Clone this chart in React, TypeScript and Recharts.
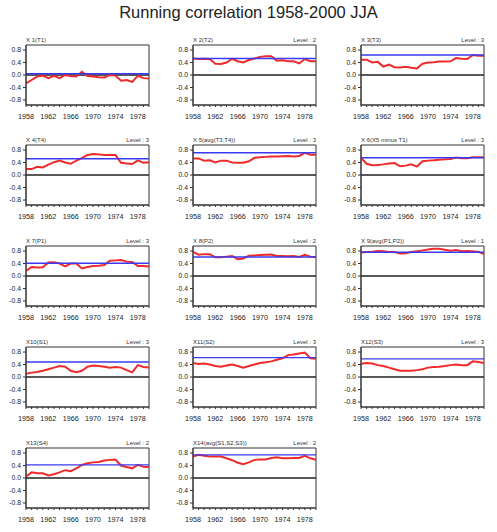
import React from 'react'
import { LineChart, Line, XAxis, YAxis, ReferenceLine, ReferenceArea } from 'recharts'

const YEARS = [1958, 1959, 1960, 1961, 1962, 1963, 1964, 1965, 1966, 1967, 1968, 1969, 1970, 1971, 1972, 1973, 1974, 1975, 1976, 1977, 1978, 1979, 1980]
const X_TICKS = [1958, 1962, 1966, 1970, 1974, 1978]
const Y_TICKS = [-0.8, -0.4, 0, 0.4, 0.8]

const TITLES = [
  'X 1(T1)', 'X 2(T2)', 'X 3(T3)',
  'X 4(T4)', 'X 5(avg(T3,T4))', 'X 6(X5 minus T1)',
  'X 7(P1)', 'X 8(P2)', 'X 9(avg(P1,P2))',
  'X10(S1)', 'X11(S2)', 'X12(S3)',
  'X13(S4)', 'X14(avg(S1,S2,S3))',
]
const LEVEL_LABELS = ['', 'Level : 2', 'Level : 3', 'Level : 3', 'Level : 3', 'Level : 3', 'Level : 3', 'Level : 2', 'Level : 1', 'Level : 3', 'Level : 3', 'Level : 3', 'Level : 2', 'Level : 2']
const LEVELS = [0.04, 0.53, 0.64, 0.52, 0.71, 0.55, 0.41, 0.61, 0.76, 0.48, 0.62, 0.58, 0.42, 0.74]

const X1 = [-0.27, -0.16, -0.05, -0.02, -0.1, -0.03, -0.1, 0, -0.03, -0.05, 0.1, -0.03, -0.05, -0.07, -0.08, 0, -0.02, -0.18, -0.16, -0.22, -0.03, -0.1, -0.11]
const X2 = [0.53, 0.51, 0.52, 0.51, 0.36, 0.35, 0.4, 0.52, 0.44, 0.4, 0.48, 0.53, 0.58, 0.6, 0.6, 0.46, 0.47, 0.44, 0.44, 0.37, 0.51, 0.44, 0.44]
const X3 = [0.49, 0.49, 0.4, 0.42, 0.27, 0.33, 0.25, 0.24, 0.26, 0.23, 0.21, 0.36, 0.4, 0.41, 0.43, 0.43, 0.44, 0.54, 0.52, 0.51, 0.64, 0.62, 0.62]
const X4 = [0.19, 0.19, 0.26, 0.24, 0.33, 0.41, 0.46, 0.4, 0.36, 0.46, 0.54, 0.64, 0.67, 0.66, 0.64, 0.64, 0.64, 0.39, 0.37, 0.35, 0.47, 0.39, 0.41]
const X5 = [0.53, 0.53, 0.46, 0.47, 0.4, 0.46, 0.46, 0.4, 0.39, 0.39, 0.44, 0.55, 0.57, 0.58, 0.59, 0.59, 0.6, 0.61, 0.59, 0.61, 0.71, 0.65, 0.65]
const X6 = [0.55, 0.36, 0.31, 0.32, 0.34, 0.37, 0.38, 0.28, 0.3, 0.34, 0.27, 0.44, 0.46, 0.47, 0.49, 0.5, 0.51, 0.56, 0.54, 0.54, 0.57, 0.57, 0.57]
const X7 = [0.16, 0.29, 0.27, 0.28, 0.43, 0.44, 0.4, 0.31, 0.4, 0.4, 0.24, 0.29, 0.32, 0.33, 0.35, 0.49, 0.5, 0.51, 0.46, 0.45, 0.32, 0.32, 0.3]
const X8 = [0.77, 0.68, 0.7, 0.7, 0.6, 0.6, 0.62, 0.64, 0.54, 0.56, 0.65, 0.66, 0.67, 0.68, 0.69, 0.64, 0.64, 0.63, 0.64, 0.61, 0.68, 0.62, 0.6]
const X9 = [0.75, 0.77, 0.78, 0.8, 0.79, 0.77, 0.77, 0.72, 0.73, 0.77, 0.79, 0.82, 0.85, 0.87, 0.87, 0.84, 0.81, 0.83, 0.79, 0.8, 0.79, 0.77, 0.7]
const X10 = [0.1, 0.14, 0.16, 0.2, 0.25, 0.3, 0.35, 0.33, 0.2, 0.15, 0.2, 0.33, 0.37, 0.35, 0.33, 0.3, 0.32, 0.3, 0.22, 0.15, 0.38, 0.32, 0.3]
const X11 = [0.45, 0.42, 0.43, 0.4, 0.35, 0.33, 0.37, 0.4, 0.35, 0.3, 0.35, 0.4, 0.45, 0.47, 0.5, 0.55, 0.6, 0.7, 0.72, 0.75, 0.78, 0.6, 0.58]
const X12 = [0.42, 0.45, 0.43, 0.38, 0.35, 0.3, 0.25, 0.2, 0.2, 0.2, 0.22, 0.25, 0.3, 0.32, 0.33, 0.35, 0.38, 0.4, 0.38, 0.38, 0.5, 0.48, 0.45]
const X13 = [0.05, 0.18, 0.15, 0.15, 0.08, 0.12, 0.18, 0.25, 0.22, 0.31, 0.42, 0.47, 0.5, 0.51, 0.56, 0.58, 0.59, 0.4, 0.35, 0.31, 0.42, 0.36, 0.35]
const X14 = [0.69, 0.74, 0.71, 0.69, 0.69, 0.69, 0.63, 0.57, 0.49, 0.44, 0.5, 0.58, 0.59, 0.59, 0.64, 0.66, 0.63, 0.63, 0.64, 0.64, 0.71, 0.63, 0.58]

const SERIES = [X1, X2, X3, X4, X5, X6, X7, X8, X9, X10, X11, X12, X13, X14]

const FONT = '"Liberation Sans", Arial, sans-serif'
const COL_LEFT = [26, 193, 361]
const ROW_TOP = [45, 145, 246, 347, 448]
const BOX_W = 123
const BOX_H = 60
const Y_AXIS_W = 24

function XTick(props: any) {
  const { x, y, payload } = props
  if (!X_TICKS.includes(payload.value)) return null
  return (
    <text x={x} y={y} dy={10} textAnchor="middle" fontSize={7.2} fill="#222" fontFamily={FONT}>
      {payload.value}
    </text>
  )
}

function Panel({ idx }: { idx: number }) {
  const left = COL_LEFT[idx % 3]
  const top = ROW_TOP[Math.floor(idx / 3)]
  const data = YEARS.map((year, i) => ({ year, r: SERIES[idx][i] }))
  return (
    <div style={{ position: 'absolute', left: left - Y_AXIS_W, top: top - 5 }}>
      <LineChart
        width={Y_AXIS_W + BOX_W + 6}
        height={5 + BOX_H + 26}
        data={data}
        margin={{ top: 5, right: 6, left: 0, bottom: 0 }}
      >
        <XAxis
          dataKey="year"
          type="number"
          domain={[1958, 1980]}
          ticks={YEARS}
          interval={0}
          tick={<XTick />}
          tickSize={2}
          height={26}
          stroke="#333"
          allowDataOverflow
        />
        <YAxis
          type="number"
          domain={[-0.96, 0.96]}
          ticks={Y_TICKS}
          tickFormatter={(v: number) => v.toFixed(1)}
          width={Y_AXIS_W}
          tickSize={3}
          tickMargin={2}
          tick={{ fontSize: 6.8, fill: '#222', fontFamily: FONT }}
          stroke="#333"
          allowDataOverflow
        />
        <ReferenceArea x1={1958} x2={1980} y1={-0.96} y2={0.96} fill="none" stroke="#333" strokeWidth={1} />
        <ReferenceLine y={0} stroke="#222" strokeWidth={1.6} />
        <Line type="linear" dataKey="r" stroke="#ee2a2a" strokeWidth={2} dot={false} isAnimationActive={false} />
        <ReferenceLine y={LEVELS[idx]} stroke="#3a3af0" strokeWidth={1.4} />
      </LineChart>
      <div style={{ position: 'absolute', left: Y_AXIS_W, top: -3, fontSize: 6, lineHeight: '7px', color: '#333', fontFamily: FONT, whiteSpace: 'nowrap' }}>
        {TITLES[idx]}
      </div>
      <div style={{ position: 'absolute', left: Y_AXIS_W, width: BOX_W, top: -3, fontSize: 6, lineHeight: '7px', color: '#333', fontFamily: FONT, textAlign: 'right', whiteSpace: 'nowrap' }}>
        {LEVEL_LABELS[idx]}
      </div>
    </div>
  )
}

export default function App() {
  return (
    <div style={{ position: 'absolute', left: 0, top: 0, width: 497, height: 532, background: '#fff', overflow: 'hidden' }}>
      <div style={{ position: 'absolute', left: 0, top: 3, width: 497, textAlign: 'center', fontSize: 16.5, fontFamily: FONT, color: '#222' }}>
        Running correlation 1958-2000 JJA
      </div>
      {SERIES.map((_, i) => (
        <Panel key={i} idx={i} />
      ))}
    </div>
  )
}
